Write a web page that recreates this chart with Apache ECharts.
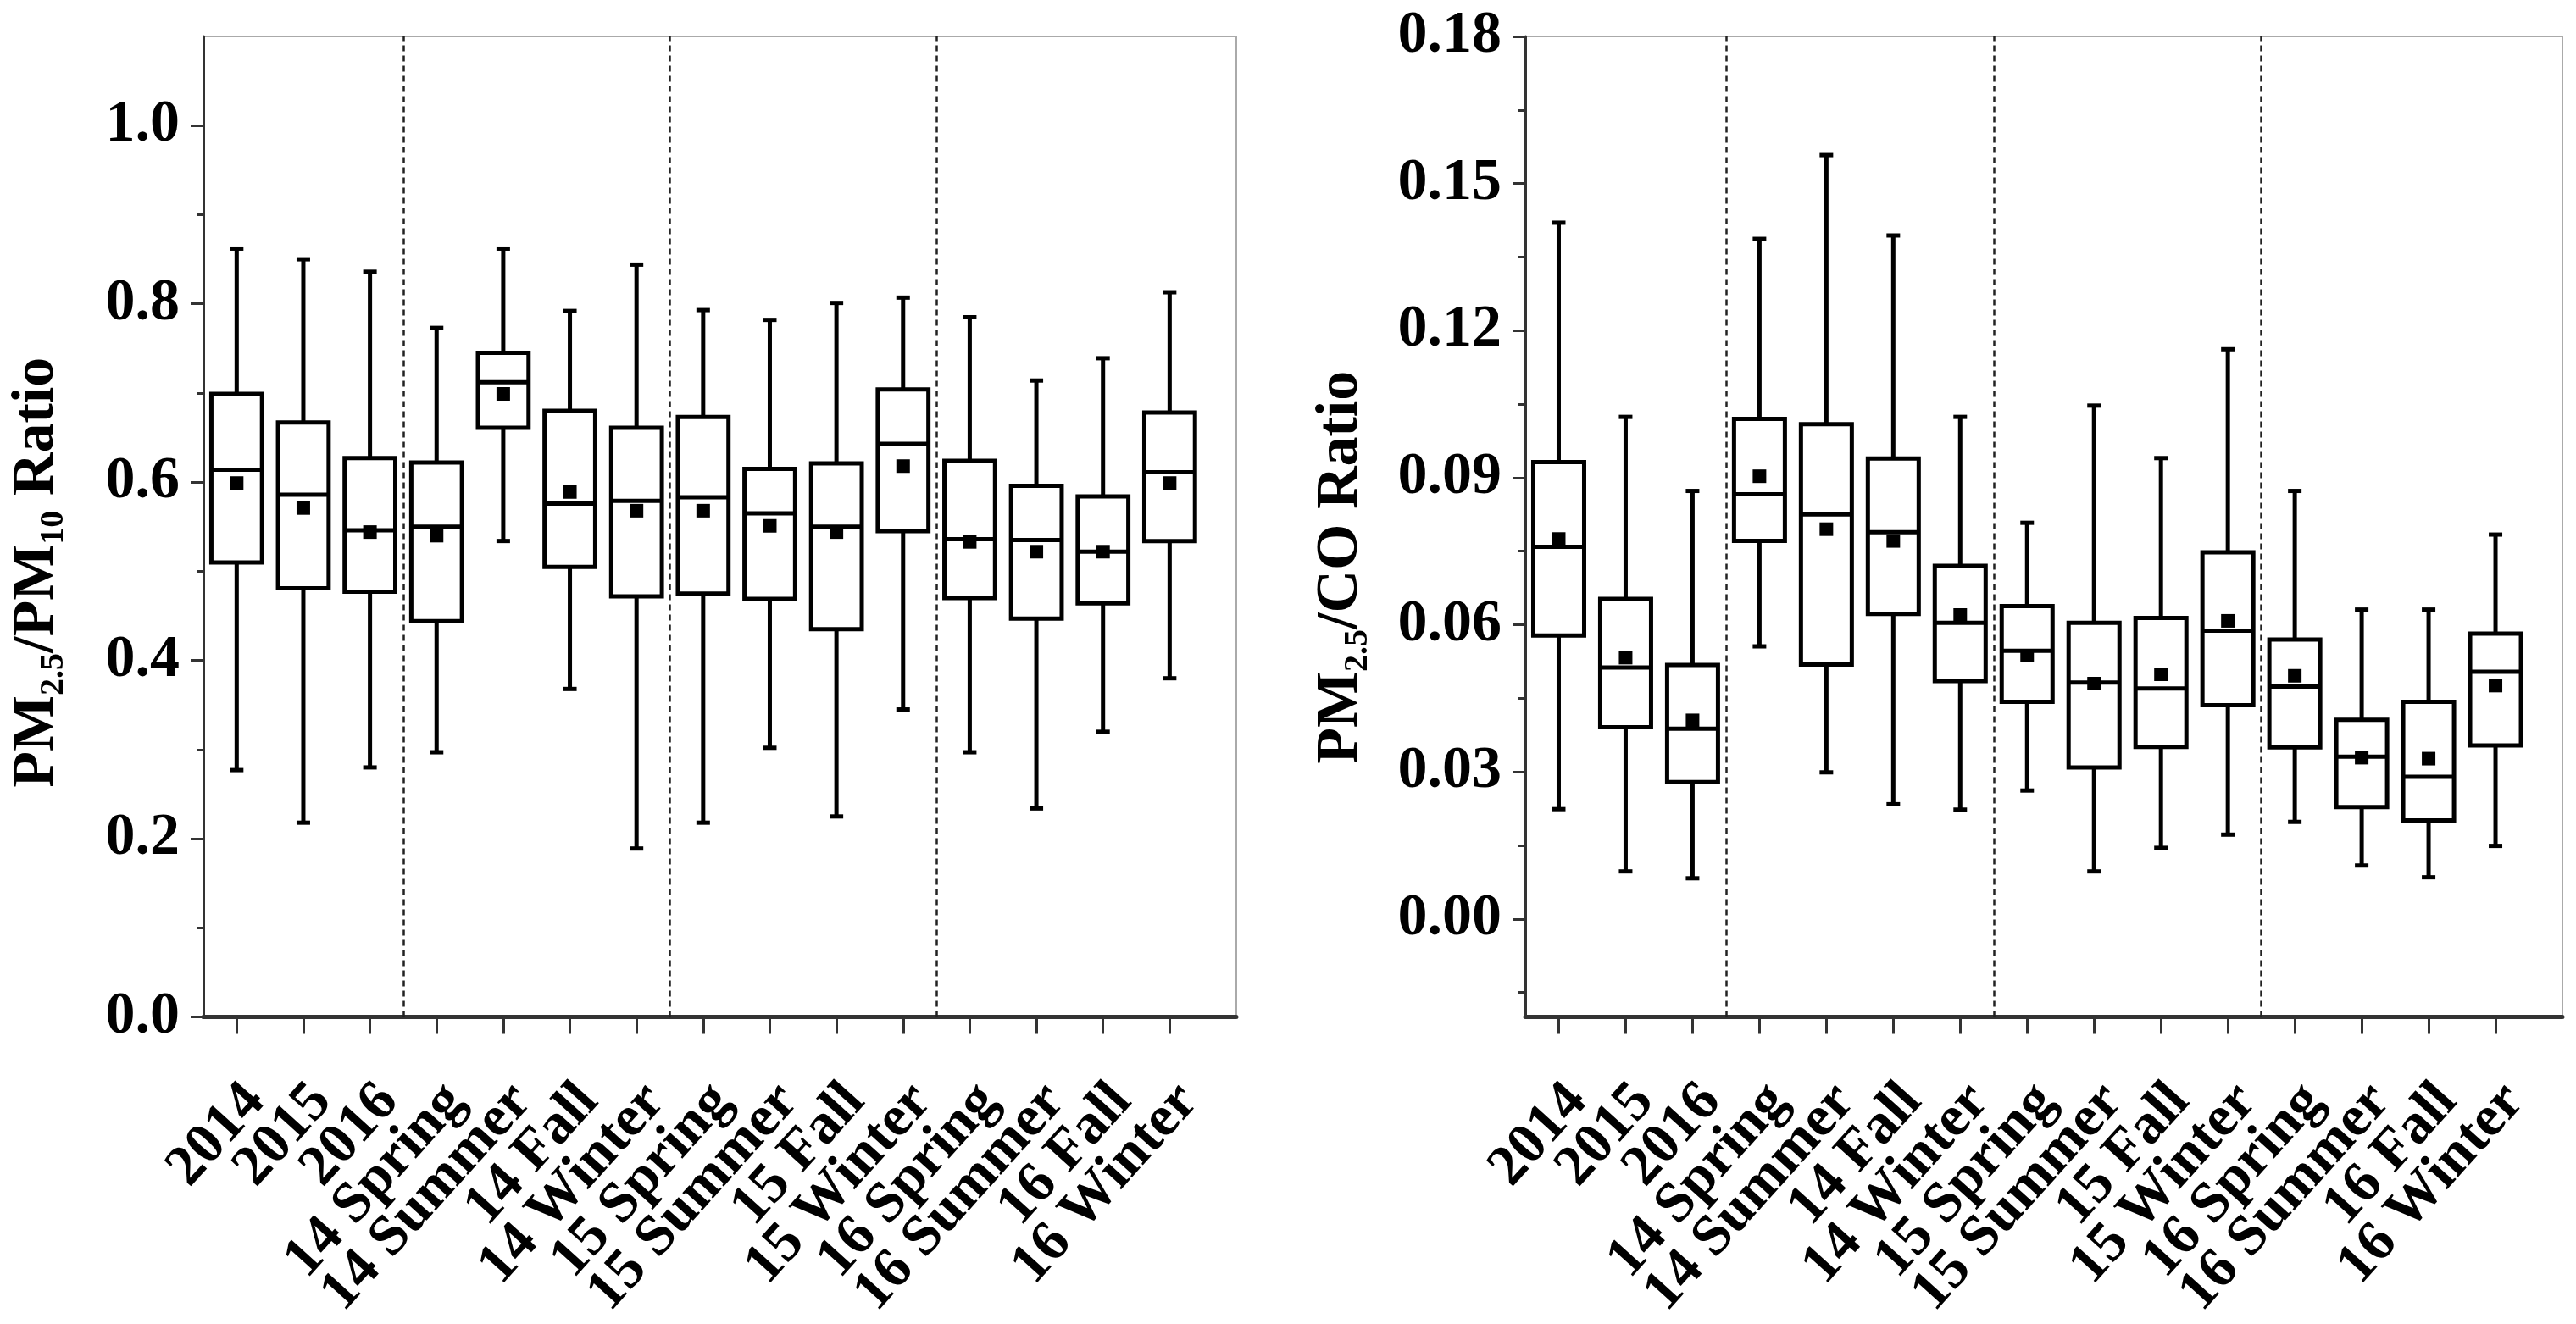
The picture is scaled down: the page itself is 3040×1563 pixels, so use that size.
<!DOCTYPE html>
<html>

<head>
    <meta http-equiv="Content-Type" content="text/html; charset=utf-8">
    <title>PM2.5 ratios</title>
    <script src="https://cdn.jsdelivr.net/npm/echarts@6.0.0/dist/echarts.min.js"></script>
    <style>
        body { margin: 0; background: #fff; }
    </style>
</head>

<body>
    <div id="main" style="width: 3040px;height:1563px;"></div>
    <script type="text/javascript">
        // categories (x positions 1..15)
        var cats = ['2014', '2015', '2016', '14 Spring', '14 Summer', '14 Fall', '14 Winter',
            '15 Spring', '15 Summer', '15 Fall', '15 Winter', '16 Spring', '16 Summer', '16 Fall', '16 Winter'];
        var separators = [3.5, 7.5, 11.5];

        // PM2.5/PM10
        var pmMax = [0.862, 0.850, 0.836, 0.773, 0.862, 0.792, 0.844, 0.793, 0.782, 0.801, 0.807, 0.785, 0.714, 0.739, 0.813];
        var pmQ3 = [0.699, 0.667, 0.627, 0.622, 0.745, 0.680, 0.661, 0.673, 0.615, 0.621, 0.704, 0.624, 0.596, 0.584, 0.678];
        var pmMed = [0.614, 0.586, 0.546, 0.550, 0.712, 0.576, 0.579, 0.583, 0.565, 0.550, 0.643, 0.536, 0.535, 0.522, 0.611];
        var pmMean = [0.599, 0.571, 0.544, 0.540, 0.699, 0.589, 0.568, 0.568, 0.551, 0.544, 0.618, 0.533, 0.522, 0.522, 0.599];
        var pmQ1 = [0.510, 0.481, 0.477, 0.444, 0.661, 0.505, 0.472, 0.475, 0.469, 0.435, 0.545, 0.470, 0.447, 0.464, 0.534];
        var pmMin = [0.277, 0.218, 0.280, 0.297, 0.534, 0.368, 0.189, 0.218, 0.302, 0.225, 0.345, 0.297, 0.234, 0.320, 0.380];

        // PM2.5/CO
        var coMax = [0.1420, 0.1024, 0.0873, 0.1387, 0.1558, 0.1394, 0.1024, 0.0808, 0.1047, 0.0940, 0.1162, 0.0873, 0.0631, 0.0631, 0.0784];
        var coQ3 = [0.0932, 0.0653, 0.0518, 0.1020, 0.1009, 0.0939, 0.0720, 0.0638, 0.0604, 0.0614, 0.0748, 0.0570, 0.0406, 0.0443, 0.0582];
        var coMed = [0.0759, 0.0513, 0.0388, 0.0866, 0.0825, 0.0789, 0.0604, 0.0547, 0.0482, 0.0470, 0.0588, 0.0474, 0.0331, 0.0290, 0.0504];
        var coMean = [0.0775, 0.0533, 0.0405, 0.0903, 0.0795, 0.0771, 0.0620, 0.0537, 0.0480, 0.0499, 0.0608, 0.0496, 0.0329, 0.0327, 0.0476];
        var coQ1 = [0.0578, 0.0391, 0.0279, 0.0771, 0.0519, 0.0622, 0.0485, 0.0443, 0.0309, 0.0351, 0.0436, 0.0350, 0.0228, 0.0201, 0.0354];
        var coMin = [0.0224, 0.0097, 0.0083, 0.0556, 0.0299, 0.0234, 0.0223, 0.0262, 0.0097, 0.0145, 0.0172, 0.0198, 0.0109, 0.0085, 0.0149];

        // tick values
        var xTicks = [1, 2, 3, 4, 5, 6, 7, 8, 9, 10, 11, 12, 13, 14, 15, 16];
        var pmTicks = [0, 0.2, 0.4, 0.6, 0.8, 1.0];
        var pmMinorTicks = [0.1, 0.3, 0.5, 0.7, 0.9];
        var coTicks = [0, 0.03, 0.06, 0.09, 0.12, 0.15, 0.18];
        var coMinorTicks = [-0.015, 0.015, 0.045, 0.075, 0.105, 0.135, 0.165];

        // rotated labels end a little right of their tick, as in the original.
        // blank labels at both ends keep echarts from dropping the first/last real one
        var LABEL_SHIFT = 0.28;
        var xLabels = [0.5].concat(cats.map(function (c, i) { return i + 1 + LABEL_SHIFT; }), [16]);

        var FONT = "'Liberation Serif', 'Times New Roman', serif";

        function rows(mn, q1, md, q3, mx, mean) {
            return cats.map(function (c, i) {
                return [i + 1, mn[i], q1[i], md[i], q3[i], mx[i], mean[i]];
            });
        }

        function renderBox(params, api) {
            var x = api.value(0);
            var pMin = api.coord([x, api.value(1)]);
            var pQ1 = api.coord([x, api.value(2)]);
            var pMed = api.coord([x, api.value(3)]);
            var pQ3 = api.coord([x, api.value(4)]);
            var pMax = api.coord([x, api.value(5)]);
            var pMean = api.coord([x, api.value(6)]);
            var bw = api.size([0.76, 0])[0];
            var cx = pMed[0];
            var cap = 8;
            var st = { stroke: '#000', lineWidth: 5, fill: null };
            return {
                type: 'group',
                children: [
                    { type: 'line', shape: { x1: cx, y1: pQ3[1], x2: cx, y2: pMax[1] }, style: st },
                    { type: 'line', shape: { x1: cx, y1: pQ1[1], x2: cx, y2: pMin[1] }, style: st },
                    { type: 'line', shape: { x1: cx - cap, y1: pMax[1], x2: cx + cap, y2: pMax[1] }, style: st },
                    { type: 'line', shape: { x1: cx - cap, y1: pMin[1], x2: cx + cap, y2: pMin[1] }, style: st },
                    {
                        type: 'rect',
                        shape: { x: cx - bw / 2, y: pQ3[1], width: bw, height: pQ1[1] - pQ3[1] },
                        style: { fill: '#fff', stroke: '#000', lineWidth: 5 }
                    },
                    { type: 'line', shape: { x1: cx - bw / 2, y1: pMed[1], x2: cx + bw / 2, y2: pMed[1] }, style: st },
                    {
                        type: 'rect',
                        shape: { x: cx - 8, y: pMean[1] - 8, width: 16, height: 16 },
                        style: { fill: '#000' }
                    }
                ]
            };
        }

        function xAxisOf(gi) {
            return {
                type: 'value', gridIndex: gi, min: 0.5, max: 16,
                splitLine: { show: false },
                axisLine: { show: true, onZero: false, lineStyle: { color: '#333', width: 5 } },
                axisTick: { show: true, customValues: xTicks, length: 20, lineStyle: { color: '#333', width: 3 } },
                axisLabel: {
                    customValues: xLabels, rotate: 48, margin: 89,
                    showMinLabel: false, showMaxLabel: false, hideOverlap: false,
                    fontFamily: FONT, fontWeight: 'bold', fontSize: 68, color: '#000',
                    formatter: function (v) { return cats[Math.round(v - LABEL_SHIFT) - 1] || ''; }
                }
            };
        }

        function yAxesOf(gi, min, max, ticks, minor, digits, name, gap, shift) {
            return [{
                type: 'value', gridIndex: gi, position: 'left', min: min, max: max,
                name: name, nameLocation: 'middle', nameGap: gap, nameRotate: 90,
                nameTextStyle: {
                    padding: [0, shift, 0, 0],
                    rich: {
                        b: { fontFamily: FONT, fontWeight: 'bold', fontSize: 70, color: '#000', lineHeight: 80, verticalAlign: 'middle' },
                        s: { fontFamily: FONT, fontWeight: 'bold', fontSize: 40, color: '#000', lineHeight: 8, verticalAlign: 'bottom' }
                    }
                },
                splitLine: { show: false },
                axisLine: { show: true, onZero: false, lineStyle: { color: '#333', width: 3 } },
                axisTick: { show: true, customValues: ticks, length: 15, lineStyle: { color: '#333', width: 3 } },
                axisLabel: {
                    customValues: ticks, margin: 28,
                    showMinLabel: true, showMaxLabel: true,
                    fontFamily: FONT, fontWeight: 'bold', fontSize: 70, color: '#000',
                    formatter: function (v) { return v.toFixed(digits); }
                }
            }, {
                type: 'value', gridIndex: gi, position: 'left', offset: 0, min: min, max: max,
                splitLine: { show: false },
                axisLine: { show: false },
                axisTick: { show: true, customValues: minor, length: 8, lineStyle: { color: '#333', width: 3 } },
                axisLabel: { show: false }
            }];
        }

        function sepLines() {
            return {
                symbol: 'none', silent: true,
                label: { show: false },
                lineStyle: { type: [7, 5], color: '#222', width: 2.5 },
                data: separators.map(function (s) { return { xAxis: s }; })
            };
        }

        var chart = echarts.init(document.getElementById('main'));
        var option = {
            animation: false,
            backgroundColor: '#fff',
            grid: [
                { left: 240, right: 1581, top: 43, bottom: 358, show: true, borderColor: '#aaa', borderWidth: 2, backgroundColor: 'transparent' },
                { left: 1800, right: 16, top: 43, bottom: 360, show: true, borderColor: '#aaa', borderWidth: 2, backgroundColor: 'transparent' }
            ],
            xAxis: [xAxisOf(0), xAxisOf(1)],
            yAxis: yAxesOf(0, 0, 1.1, pmTicks, pmMinorTicks, 1, '{b|PM}{s|2.5}{b|/PM}{s|10}{b| Ratio}', 156, 108)
                .concat(yAxesOf(1, -0.02, 0.18, coTicks, coMinorTicks, 2, '{b|PM}{s|2.5}{b|/CO Ratio}', 177, 96)),
            series: [
                {
                    type: 'custom', xAxisIndex: 0, yAxisIndex: 0,
                    renderItem: renderBox,
                    encode: { x: 0, y: [1, 2, 3, 4, 5, 6] },
                    data: rows(pmMin, pmQ1, pmMed, pmQ3, pmMax, pmMean),
                    markLine: sepLines(),
                    z: 3
                },
                {
                    type: 'custom', xAxisIndex: 1, yAxisIndex: 2,
                    renderItem: renderBox,
                    encode: { x: 0, y: [1, 2, 3, 4, 5, 6] },
                    data: rows(coMin, coQ1, coMed, coQ3, coMax, coMean),
                    markLine: sepLines(),
                    z: 3
                }
            ]
        };
        chart.setOption(option);
    </script>
</body>

</html>
